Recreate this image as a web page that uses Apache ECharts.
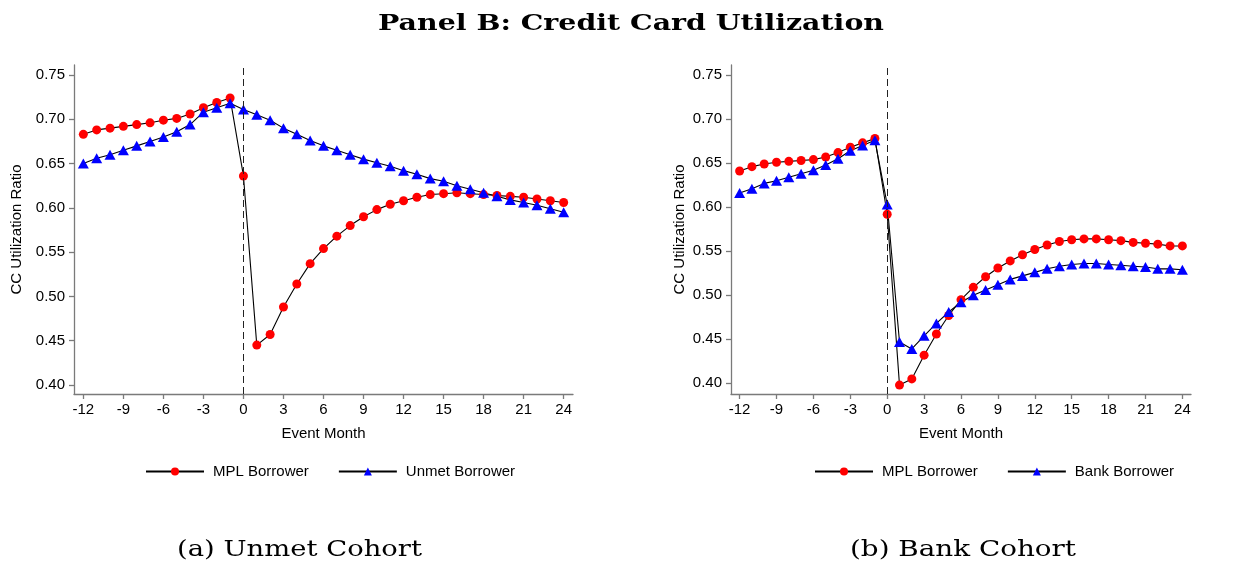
<!DOCTYPE html>
<html>
<head>
<meta charset="utf-8">
<script src="https://cdn.jsdelivr.net/npm/echarts@6/dist/echarts.min.js"></script>
<style>
html,body{margin:0;padding:0;background:#fff;}
#chart{width:1256px;height:562px;}
</style>
</head>
<body>
<div id="chart"></div>
<script>
// ---- data ----
const months = [-12,-11,-10,-9,-8,-7,-6,-5,-4,-3,-2,-1,0,1,2,3,4,5,6,7,8,9,10,11,12,13,14,15,16,17,18,19,20,21,22,23,24];
const unmetMPL = [0.683,0.688,0.690,0.692,0.694,0.696,0.699,0.701,0.706,0.713,0.719,0.724,0.636,0.445,0.457,0.488,0.514,0.537,0.554,0.568,0.580,0.590,0.598,0.604,0.608,0.612,0.615,0.616,0.617,0.616,0.615,0.614,0.613,0.612,0.610,0.608,0.606];
const unmetUnmet = [0.650,0.656,0.660,0.665,0.670,0.675,0.680,0.686,0.694,0.708,0.713,0.718,0.711,0.705,0.699,0.690,0.683,0.676,0.670,0.665,0.660,0.655,0.651,0.647,0.642,0.638,0.633,0.630,0.625,0.621,0.617,0.613,0.609,0.606,0.603,0.599,0.595];
const bankMPL = [0.641,0.646,0.649,0.651,0.652,0.653,0.654,0.657,0.662,0.668,0.673,0.678,0.592,0.398,0.405,0.432,0.456,0.477,0.495,0.509,0.521,0.531,0.539,0.546,0.552,0.557,0.561,0.563,0.564,0.564,0.563,0.562,0.560,0.559,0.558,0.556,0.556];
const bankBank = [0.616,0.621,0.627,0.630,0.634,0.638,0.642,0.648,0.655,0.664,0.670,0.676,0.603,0.447,0.439,0.454,0.468,0.481,0.492,0.500,0.506,0.512,0.518,0.522,0.526,0.530,0.533,0.535,0.536,0.536,0.535,0.534,0.533,0.532,0.530,0.530,0.529];
const xTicks = [-12,-9,-6,-3,0,3,6,9,12,15,18,21,24];
const yTicks = [0.40,0.45,0.50,0.55,0.60,0.65,0.70,0.75];
const titleText = 'Panel B: Credit Card Utilization';
const captionA = '(a) Unmet Cohort';
const captionB = '(b) Bank Cohort';
const legendA = ['MPL Borrower','Unmet Borrower'];
const legendB = ['MPL Borrower','Bank Borrower'];
const yName = 'CC Utilization Ratio';
const xName = 'Event Month';

// ---- helpers ----
const pairs = (ys) => months.map((m, i) => [m, ys[i]]);
const SANS = '"Liberation Sans", Arial, sans-serif';
const SERIF = '"DejaVu Serif", serif';
const axisGray = '#7a7a7a';

const mctx = document.createElement('canvas').getContext('2d');
function stretchText(text, font, cx, cy, targetW) {
  mctx.font = font;
  const w = mctx.measureText(text).width || 1;
  return {
    type: 'text', x: cx, y: cy, scaleX: targetW / w, silent: true,
    style: { text, font, fill: '#000', align: 'center', verticalAlign: 'middle',
             textAlign: 'center', textVerticalAlign: 'middle' }
  };
}

function xAxisCfg(gi) {
  return {
    gridIndex: gi, type: 'value', min: -12.7, max: 24.7,
    name: xName, nameLocation: 'middle', nameGap: 32,
    nameTextStyle: { fontFamily: SANS, fontSize: 15, color: '#000' },
    axisLine: { show: true, onZero: false, lineStyle: { color: axisGray, width: 1.3 } },
    axisTick: { show: true, length: 5, customValues: xTicks, lineStyle: { color: axisGray, width: 1.3 } },
    axisLabel: { customValues: xTicks, margin: 8, fontFamily: SANS, fontSize: 15, color: '#000' },
    splitLine: { show: false }
  };
}
function yAxisCfg(gi, min, max, gap) {
  return {
    gridIndex: gi, type: 'value', min: min, max: max,
    name: yName, nameLocation: 'middle', nameGap: gap,
    nameTextStyle: { fontFamily: SANS, fontSize: 15, color: '#000' },
    axisLine: { show: true, onZero: false, lineStyle: { color: axisGray, width: 1.3 } },
    axisTick: { show: true, length: 5, customValues: yTicks, lineStyle: { color: axisGray, width: 1.3 } },
    axisLabel: { customValues: yTicks, margin: 9, fontFamily: SANS, fontSize: 15, color: '#000',
                 formatter: (v) => v.toFixed(2) },
    splitLine: { show: false }
  };
}
function lineSeries(name, ys, gi, sym, color, size, withMark) {
  const s = {
    name: name, type: 'line', xAxisIndex: gi, yAxisIndex: gi,
    data: pairs(ys), symbol: sym, symbolSize: size, showAllSymbol: true,
    lineStyle: { color: '#000', width: 1.1 },
    itemStyle: { color: color, borderWidth: 0 },
    emphasis: { disabled: true }, animation: false
  };
  if (withMark) {
    s.markLine = {
      silent: true, symbol: 'none', animation: false,
      label: { show: false },
      lineStyle: { color: '#222', type: [7, 4], width: 1 },
      data: [{ xAxis: 0 }]
    };
  }
  return s;
}
function legendCfg(left, names) {
  return {
    left: left, top: 459, itemWidth: 58, itemHeight: 10, itemGap: 29,
    data: names, selectedMode: false,
    textStyle: { fontFamily: SANS, fontSize: 15, color: '#000', padding: [0, 0, 0, 4] }
  };
}

const chart = echarts.init(document.getElementById('chart'), null, { renderer: 'canvas' });
chart.setOption({
  backgroundColor: '#fff',
  animation: false,
  grid: [
    { left: 74, top: 65, width: 499, height: 329 },
    { left: 731, top: 65, width: 460, height: 329 }
  ],
  xAxis: [xAxisCfg(0), xAxisCfg(1)],
  yAxis: [yAxisCfg(0, 0.3898, 0.7613, 50), yAxisCfg(1, 0.3879, 0.7614, 44)],
  legend: [legendCfg(140, legendA), legendCfg(809, legendB)],
  series: [
    lineSeries(legendA[0], unmetMPL, 0, 'circle', '#ff0000', 9, true),
    lineSeries(legendA[1], unmetUnmet, 0, 'triangle', '#0000ff', [11, 10], false),
    lineSeries(legendB[0], bankMPL, 1, 'circle', '#ff0000', 9, true),
    lineSeries(legendB[1], bankBank, 1, 'triangle', '#0000ff', [11, 10], false)
  ],
  graphic: [
    stretchText(titleText, 'bold 22px ' + SERIF, 631, 24, 506),
    stretchText(captionA, '22px ' + SERIF, 299.5, 550, 245),
    stretchText(captionB, '22px ' + SERIF, 963, 550, 226)
  ]
});
</script>
</body>
</html>
